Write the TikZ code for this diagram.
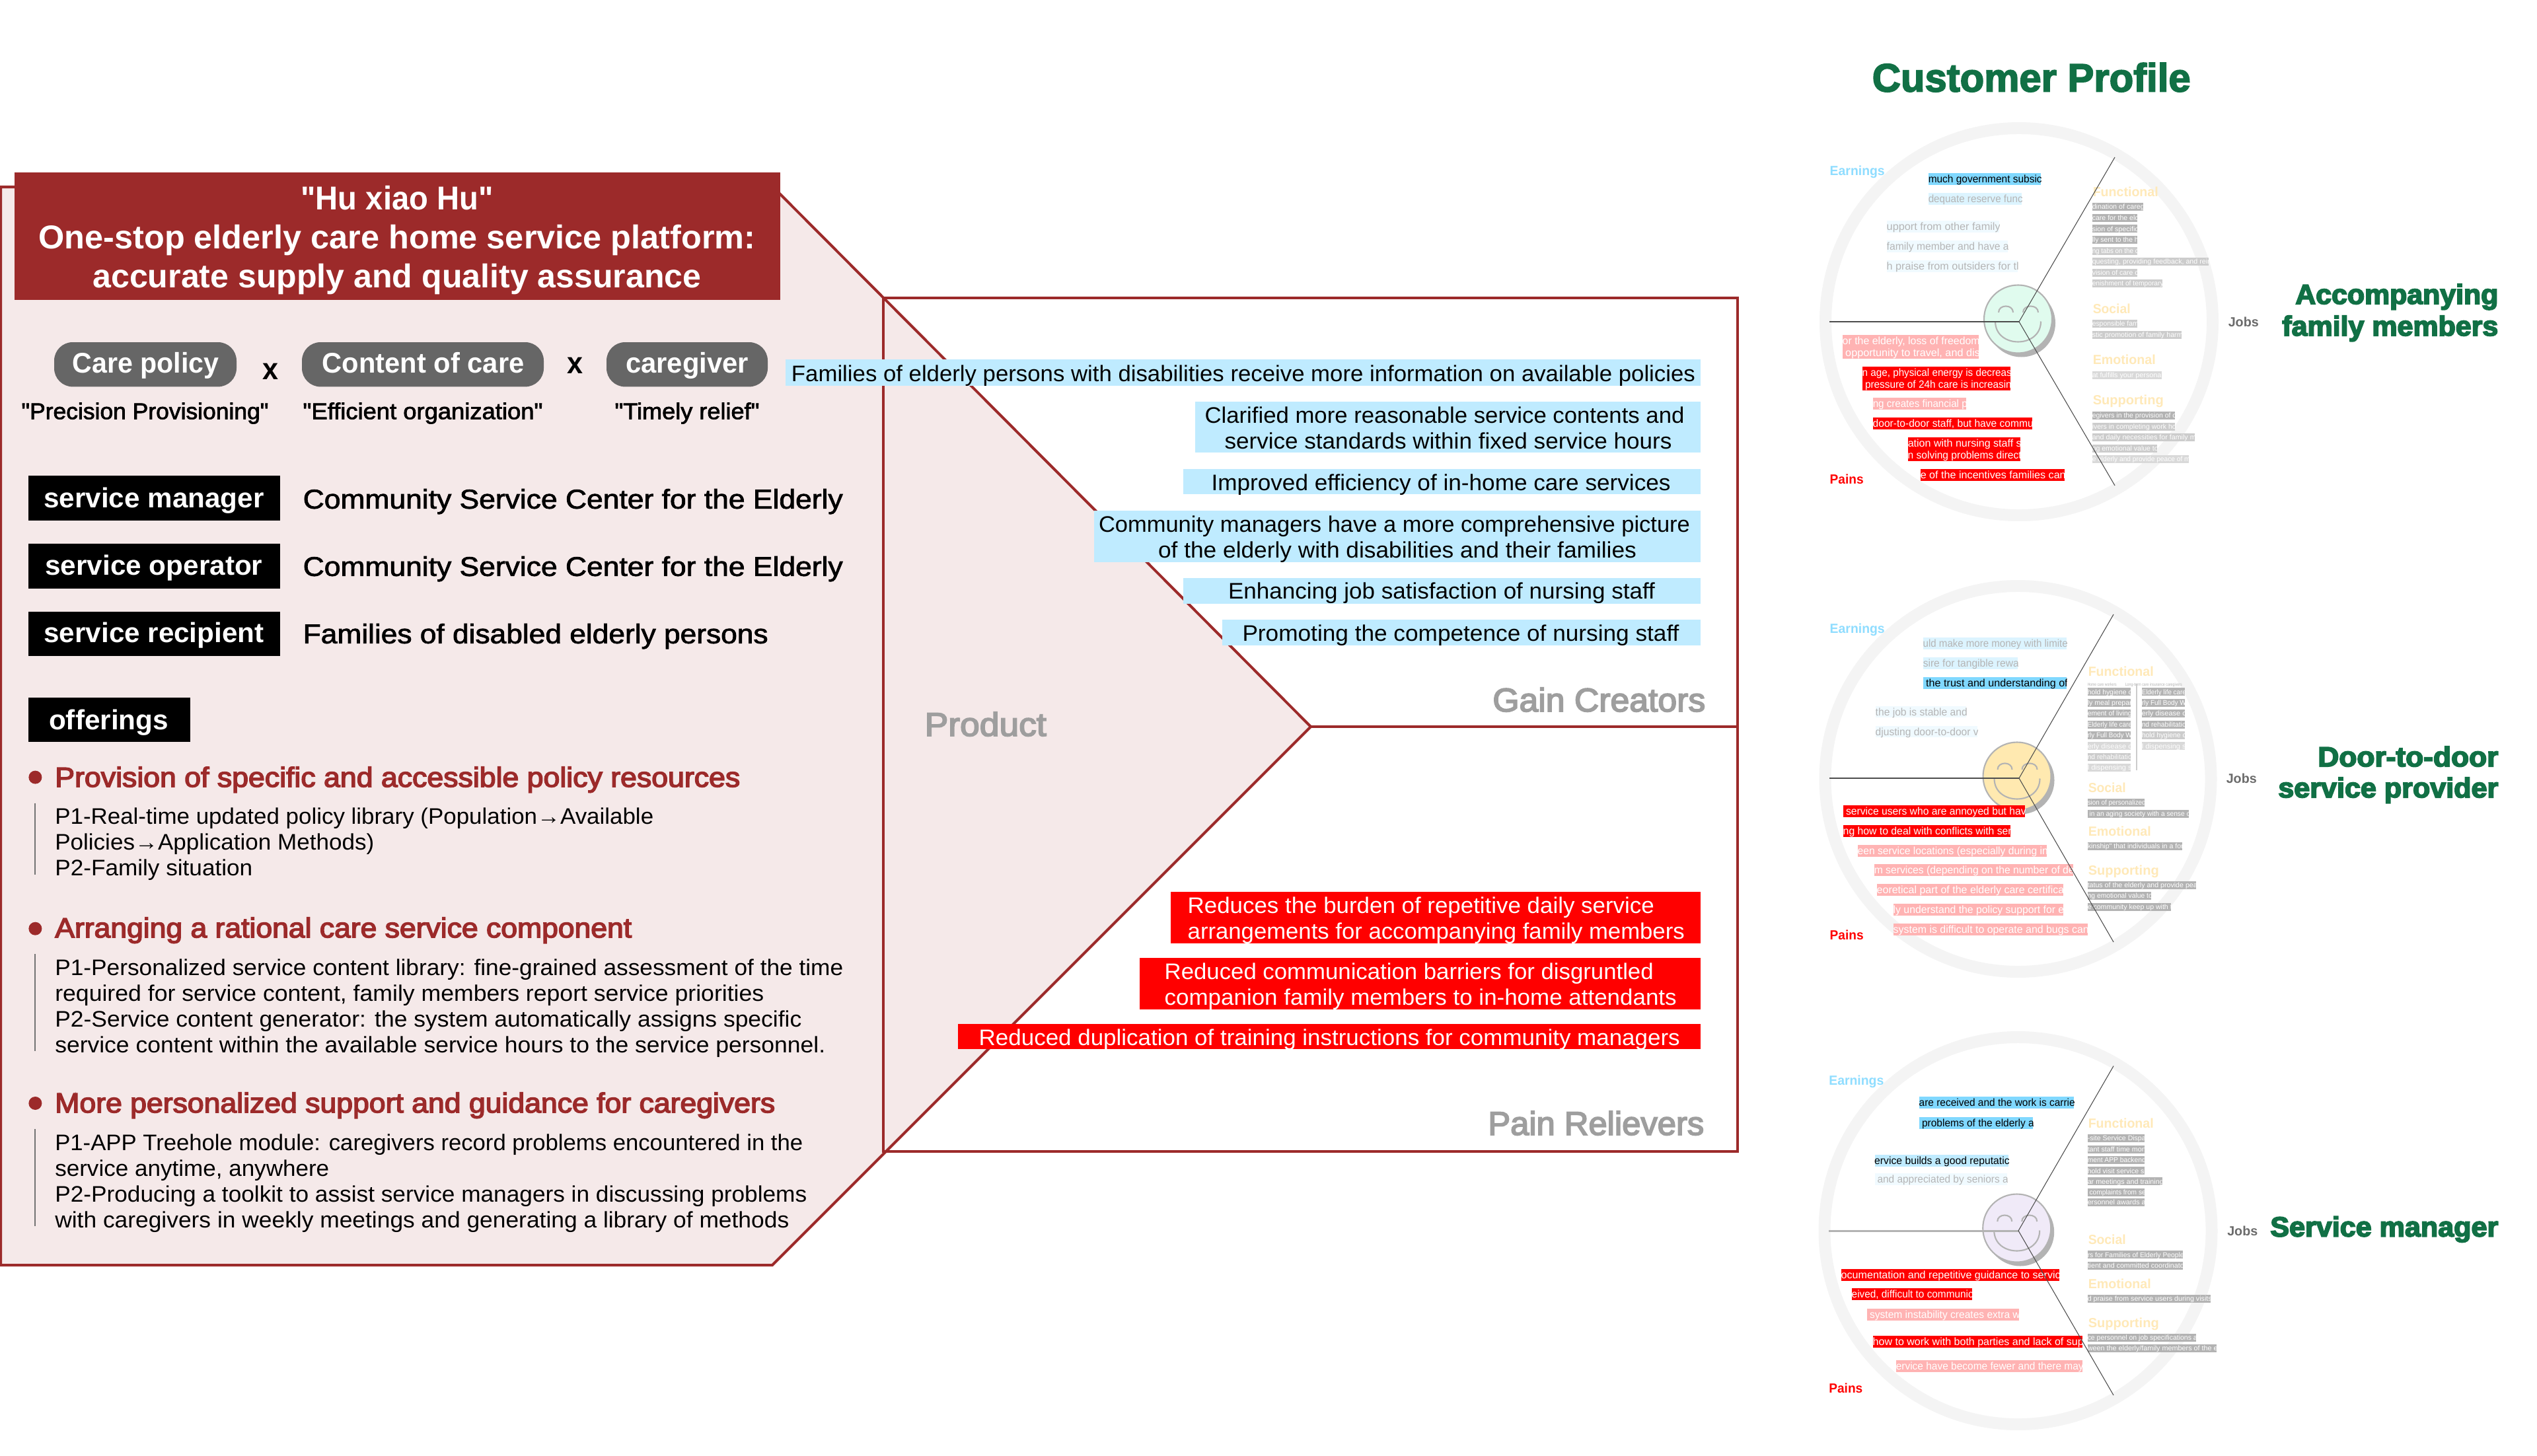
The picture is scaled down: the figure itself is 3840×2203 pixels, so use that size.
\documentclass[tikz,border=0pt]{standalone}
\usepackage{fontspec}
\usepackage{graphicx}
\setmainfont{Liberation Sans}
\newfontfamily\rf{Liberation Sans}
\newcommand\mf{\special{pdf:code 2 Tr 0.22 w}}
\newcommand\hf{\special{pdf:code 2 Tr 0.42 w}}
\newcommand\gf{\special{pdf:code 2 Tr 0.5 w}}
\newcommand\xb{\special{pdf:code 2 Tr 0.5 w}}
\newcommand\stoptr{\special{pdf:code 0 Tr 1 w}}
\definecolor{dkred}{HTML}{9C2A2A}
\definecolor{prodfill}{HTML}{F5E9E9}
\definecolor{pillgray}{HTML}{666666}
\definecolor{valblue}{HTML}{BFEBFF}
\definecolor{skyA}{HTML}{80D8FF}
\definecolor{skyB}{HTML}{DCF4FF}
\definecolor{skyC}{HTML}{F0FAFF}
\definecolor{pinkbox}{HTML}{FFB3B3}
\definecolor{ringgray}{HTML}{F4F4F4}
\definecolor{earnc}{HTML}{8FDDFF}
\definecolor{jobc}{HTML}{FFE9B8}
\definecolor{greent}{HTML}{117045}
\definecolor{capgray}{HTML}{9E9E9E}
\definecolor{jobgray}{HTML}{6B6B6B}
\definecolor{rowA}{HTML}{B3B3B3}
\definecolor{rowB}{HTML}{CCCCCC}
\definecolor{rowC}{HTML}{D9D9D9}
\definecolor{fadetext}{HTML}{B5B5B5}
\definecolor{facegreen}{HTML}{E0FBEE}
\definecolor{faceyellow}{HTML}{FFE9B0}
\definecolor{facepurple}{HTML}{F0EAF8}
\newlength\pxu \pxu=0.2845pt
\newlength\pxl \pxl=0.01cm
\newcounter{nid}
% anchor, x, y centre, width, size, font, colour, text
\newcommand\tx[8]{\stepcounter{nid}\node[anchor=#1,inner sep=0pt,text=#7] (t\thenid) at ({#2},{#3+0.36*#5}) {\resizebox{#4\pxl}{\height}{\fontsize{#5\pxu}{#5\pxu}\selectfont\rf#6\relax#8\stoptr}};}
% size, x1, y1, x2, y2, fill, text colour, text
\newcommand\cbs[8]{\fill[#6] ({#2},{#3}) rectangle ({#4},{#5});
 \begin{scope}\clip ({#2},{#3}) rectangle ({#4},{#5});
 \pgfmathsetmacro\wtmp{#4-#2+2}
 \stepcounter{nid}\node[anchor=base west,inner sep=0pt,text=#7] (t\thenid) at ({#2-1},{0.5*(#3+#5)+0.36*#1}) {\resizebox{\wtmp\pxl}{\height}{\fontsize{#1\pxu}{#1\pxu}\selectfont\rf#8}};
 \end{scope}}
\newcommand\cb[7]{\cbs{16}{#1}{#2}{#3}{#4}{#5}{#6}{#7}}
% two-line box: x1,y1,x2,y2,fill,colour,line1,line2
\newcommand\cbb[8]{\fill[#5] ({#1},{#2}) rectangle ({#3},{#4});
 \begin{scope}\clip ({#1},{#2}) rectangle ({#3},{#4});
 \pgfmathsetmacro\wtmp{#3-#1+2}
 \stepcounter{nid}\node[anchor=base west,inner sep=0pt,text=#6] (t\thenid) at ({#1-1},{0.75*#2+0.25*#4+5.8}) {\resizebox{\wtmp\pxl}{\height}{\fontsize{16\pxu}{16\pxu}\selectfont\rf#7}};
 \stepcounter{nid}\node[anchor=base west,inner sep=0pt,text=#6] (t\thenid) at ({#1-1},{0.25*#2+0.75*#4+5.8}) {\resizebox{\wtmp\pxl}{\height}{\fontsize{16\pxu}{16\pxu}\selectfont\rf#8}};
 \end{scope}}
% job row: x1, y centre, x2, fill, text
\newcommand\jr[5]{\cbs{10.5}{#1}{#2-6}{#3}{#2+6}{#4}{white}{#5}}
% wheel label: x, y, colour, width, text
\newcommand\wl[5]{\tx{base west}{#1}{#2}{#4}{20}{\bfseries}{#3}{#5}}
% smiley: cx, cy, fill
\newcommand\smiley[3]{\begin{scope}[shift={(#1,#2)}]
 \fill[rowA] (5,6) circle[radius=51.5];
 \filldraw[fill=#3,draw=rowA,line width=0.6pt] (0,0) circle[radius=51.5];
 \draw[rowA,line width=0.6pt] (-29.5,-10) .. controls (-29.5,-22.7) and (-7.5,-22.7) .. (-7.5,-10);
 \draw[rowA,line width=0.6pt] (7.5,-10) .. controls (7.5,-22.7) and (30.5,-22.7) .. (30.5,-10);
 \draw[rowA,line width=0.6pt] (-34.5,3.5) .. controls (-34.5,44.8) and (34.5,44.8) .. (34.5,3.5);
 \end{scope}}
\tikzset{
 ring/.style={draw=ringgray,line width=5.1pt},
 spoke/.style={draw=black!70,line width=0.3pt},
 redline/.style={draw=dkred,line width=1.14pt},
 blackbox/.style={fill=black},
 pillbox/.style={fill=pillgray,rounded corners=0.28cm},
 bar/.style={draw=black!55,line width=0.85pt},
 dotm/.style={fill=dkred}
}
\begin{document}
\begin{tikzpicture}[x=0.01cm,y=-0.01cm]
\useasboundingbox (0,0) rectangle (3840,2203);
\fill[white] (0,0) rectangle (3840,2203);
% product shape
\coordinate (tip) at (1984,1100);
\coordinate (pTL) at (1,283);
\coordinate (pTR) at (1170,283);
\coordinate (pBR) at (1169,1915);
\coordinate (pBL) at (1,1915);
\filldraw[fill=prodfill,redline] (pTL) -- (pTR) -- (tip) -- (pBR) -- (pBL) -- cycle;
% gain / pain box
\coordinate (gTL) at (1336.5,451);
\coordinate (gBR) at (2630,1743);
\coordinate (gMR) at (2630,1100);
\draw[redline] (gTL) rectangle (gBR);
\draw[redline] (tip) -- (gMR);
% title
\fill[dkred] (22,261) rectangle (1181,454);
\tx{base}{601}{299}{291}{50}{\bfseries}{white}{"Hu xiao Hu"}
\tx{base}{601}{358}{1085}{50}{\bfseries}{white}{One-stop elderly care home service platform:}
\tx{base}{601}{417.5}{921}{50}{\bfseries}{white}{accurate supply and quality assurance}
% pills
\fill[pillbox] (82,518) rectangle (358,585.4);
\fill[pillbox] (457,518) rectangle (823,585.4);
\fill[pillbox] (918,518) rectangle (1162,585.4);
\tx{base}{220.4}{549}{222}{43}{\bfseries}{white}{Care policy}
\tx{base}{640.6}{549}{306}{43}{\bfseries}{white}{Content of care}
\tx{base}{1040}{549}{186}{43}{\bfseries}{white}{caregiver}
\tx{base}{409}{558}{24}{46}{\bfseries}{black}{x}
\tx{base}{870}{549}{24}{46}{\bfseries}{black}{x}
\tx{base}{219.5}{622}{374}{34.5}{\mf}{black}{"Precision Provisioning"}
\tx{base}{640}{622}{363}{34.5}{\mf}{black}{"Efficient organization"}
\tx{base}{1040}{622}{219}{34.5}{\mf}{black}{"Timely relief"}
% actors
\fill[blackbox] (43,720) rectangle (423.6,787.5);
\fill[blackbox] (43,822.6) rectangle (423.6,890.5);
\fill[blackbox] (43,926) rectangle (423.6,993);
\tx{base}{233}{753}{333}{42}{\bfseries}{white}{service manager}
\tx{base}{233}{855}{329}{42}{\bfseries}{white}{service operator}
\tx{base}{233}{957}{333}{42}{\bfseries}{white}{service recipient}
\tx{base west}{458}{755}{817}{41}{\mf}{black}{Community Service Center for the Elderly}
\tx{base west}{458}{857}{817}{41}{\mf}{black}{Community Service Center for the Elderly}
\tx{base west}{458}{959}{704}{41}{\mf}{black}{Families of disabled elderly persons}
% offerings
\fill[blackbox] (43,1056) rectangle (287.6,1123);
\tx{base}{164.6}{1089}{181}{42}{\bfseries}{white}{offerings}
\fill[dotm] (53.4,1176.6) circle[radius=10];
\fill[dotm] (53.4,1405.7) circle[radius=10];
\fill[dotm] (53.4,1670) circle[radius=10];
\tx{base west}{82.6}{1176}{1037}{42}{\hf}{dkred}{Provision of specific and accessible policy resources}
\tx{base west}{82.6}{1404}{873}{42}{\hf}{dkred}{Arranging a rational care service component}
\tx{base west}{82.6}{1669}{1090}{42}{\hf}{dkred}{More personalized support and guidance for caregivers}
\coordinate (b1a) at (53,1215.7); \coordinate (b1b) at (53,1323.6);
\coordinate (b2a) at (53,1444); \coordinate (b2b) at (53,1591);
\coordinate (b3a) at (53,1709); \coordinate (b3b) at (53,1856);
\draw[bar] (b1a) -- (b1b); \draw[bar] (b2a) -- (b2b); \draw[bar] (b3a) -- (b3b);
\tx{base west}{82.6}{1235}{906}{34}{}{black}{P1-Real-time updated policy library (Population→Available}
\tx{base west}{82.6}{1274}{483}{34}{}{black}{Policies→Application Methods)}
\tx{base west}{82.6}{1313}{299}{34}{}{black}{P2-Family situation}
\tx{base west}{82.6}{1464}{1193}{34}{}{black}{P1-Personalized service content library: fine-grained assessment of the time}
\tx{base west}{82.6}{1503}{1073}{34}{}{black}{required for service content, family members report service priorities}
\tx{base west}{82.6}{1542}{1130}{34}{}{black}{P2-Service content generator: the system automatically assigns specific}
\tx{base west}{82.6}{1581}{1166}{34}{}{black}{service content within the available service hours to the service personnel.}
\tx{base west}{82.6}{1729}{1132}{34}{}{black}{P1-APP Treehole module: caregivers record problems encountered in the}
\tx{base west}{82.6}{1768}{415}{34}{}{black}{service anytime, anywhere}
\tx{base west}{82.6}{1807}{1138}{34}{}{black}{P2-Producing a toolkit to assist service managers in discussing problems}
\tx{base west}{82.6}{1846}{1111}{34}{}{black}{with caregivers in weekly meetings and generating a library of methods}
% value boxes
\fill[valblue] (1189,544) rectangle (2573.5,583.5);
\fill[valblue] (1809,608) rectangle (2573.5,685);
\fill[valblue] (1791,710) rectangle (2573.5,748);
\fill[valblue] (1656,773) rectangle (2573.5,851);
\fill[valblue] (1791,875) rectangle (2573.5,913.6);
\fill[valblue] (1850,938) rectangle (2573.5,977);
\tx{base}{1882}{565}{1368}{34}{}{black}{Families of elderly persons with disabilities receive more information on available policies}
\tx{base}{2186.5}{628}{726}{34}{}{black}{Clarified more reasonable service contents and}
\tx{base}{2192}{667}{677}{34}{}{black}{service standards within fixed service hours}
\tx{base}{2181}{730}{695}{34}{}{black}{Improved efficiency of in-home care services}
\tx{base}{2110.5}{793}{895}{34}{}{black}{Community managers have a more comprehensive picture}
\tx{base}{2115}{832}{724}{34}{}{black}{of the elderly with disabilities and their families}
\tx{base}{2182}{894.5}{646}{34}{}{black}{Enhancing job satisfaction of nursing staff}
\tx{base}{2211}{958}{661}{34}{}{black}{Promoting the competence of nursing staff}
\tx{base east}{2582}{1059}{322}{50}{\gf}{capgray}{Gain Creators}
\tx{base west}{1399}{1096}{184}{50}{\gf}{capgray}{Product}
% relievers
\fill[red] (1772,1350) rectangle (2573.5,1428);
\fill[red] (1725,1450) rectangle (2573.5,1528);
\fill[red] (1450,1550) rectangle (2573.5,1588);
\tx{base west}{1797}{1370}{706}{34}{}{white}{Reduces the burden of repetitive daily service}
\tx{base west}{1797}{1409}{752}{34}{}{white}{arrangements for accompanying family members}
\tx{base west}{1762}{1470}{740}{34}{}{white}{Reduced communication barriers for disgruntled}
\tx{base west}{1762}{1509}{775}{34}{}{white}{companion family members to in-home attendants}
\tx{base west}{1481}{1570}{1061}{34}{}{white}{Reduced duplication of training instructions for community managers}
\tx{base east}{2580}{1700}{327}{50}{\gf}{capgray}{Pain Relievers}
% customer profile
\tx{base west}{2833}{117}{482}{60}{\xb\bfseries}{greent}{Customer Profile}
% ---------- wheel 1
\draw[ring] (3056,487) circle[radius=293];
\smiley{3054.5}{483}{facegreen}
\wl{2769}{258}{earnc}{83}{Earnings}
\wl{2769}{725}{red}{51}{Pains}
\cb{2919}{262}{3089}{280}{skyA}{black}{much government subsic}
\cb{2919}{292}{3060}{310}{skyB}{fadetext}{dequate reserve func}
\cb{2856}{334}{3026}{352}{skyC}{fadetext}{upport from other family}
\cb{2856}{364}{3039}{382}{skyC}{fadetext}{family member and have a}
\cb{2856}{394}{3054}{412}{skyC}{fadetext}{h praise from outsiders for tl}
\cbb{2789}{507}{2995}{543}{pinkbox}{white}{or the elderly, loss of freedom}{ opportunity to travel, and dis}
\cbb{2819}{555}{3043}{591}{red}{white}{n age, physical energy is decreas}{ pressure of 24h care is increasin}
\cb{2835}{602}{2976}{620}{pinkbox}{white}{ng creates financial p}
\cb{2835}{632}{3076}{650}{red}{white}{door-to-door staff, but have commu}
\cbb{2888}{662}{3058}{698}{red}{white}{ation with nursing staff s}{n solving problems direct}
\cb{2907}{710}{3125}{728}{red}{white}{e of the incentives families can}
\wl{3167}{290}{jobc}{99}{Functional}
\jr{3167}{313}{3244}{rowA}{dination of careg}
\jr{3167}{330}{3235}{rowA}{care for the elc}
\jr{3167}{346.4}{3235}{rowA}{sion of specific}
\jr{3167}{363}{3235}{rowA}{lly sent to the h}
\jr{3167}{379.5}{3235}{rowB}{ng tabs on the c}
\jr{3167}{396}{3343}{rowB}{questing, providing feedback, and reir}
\jr{3167}{412.5}{3235}{rowB}{vision of care c}
\jr{3167}{429}{3273}{rowB}{enishment of temporary}
\wl{3167}{467}{jobc}{57}{Social}
\jr{3167}{490}{3235}{rowB}{esponsible fam}
\jr{3167}{506.5}{3302}{rowB}{stic promotion of family harm}
\wl{3167}{544}{jobc}{95}{Emotional}
\jr{3167}{568}{3272}{rowC}{at fulfills your personal}
\wl{3167}{605}{jobc}{107}{Supporting}
\jr{3167}{629}{3292}{rowA}{egivers in the provision of c}
\jr{3167}{645.6}{3292}{rowB}{ivers in completing work ho}
\jr{3167}{662}{3322}{rowB}{and daily necessities for family m}
\jr{3167}{679}{3265}{rowB}{ng emotional value to}
\jr{3167}{695}{3313}{rowC}{e elderly and provide peace of m}
\wl{3372}{487}{jobgray}{46}{Jobs}
\coordinate (wac) at (3056,487); \coordinate (wal) at (2769,487);
\coordinate (wau) at (3201,238); \coordinate (wad) at (3201,735);
\draw[spoke] (wac) -- (wal); \draw[spoke] (wac) -- (wau); \draw[spoke] (wac) -- (wad);
\tx{base east}{3782}{445}{307}{42}{\xb\bfseries}{greent}{Accompanying}
\tx{base east}{3782}{493}{327}{42}{\xb\bfseries}{greent}{family members}
% ---------- wheel 2
\draw[ring] (3054.5,1179) circle[radius=292];
\smiley{3053}{1175}{faceyellow}
\wl{2769}{951}{earnc}{83}{Earnings}
\wl{2769}{1415.6}{red}{51}{Pains}
\cb{2911}{965}{3128}{983}{skyB}{fadetext}{uld make more money with limite}
\cb{2911}{995}{3054}{1013}{skyB}{fadetext}{sire for tangible rewa}
\cb{2911}{1024.5}{3128}{1043}{skyA}{black}{ the trust and understanding of}
\cb{2839}{1069}{2976}{1086}{skyC}{fadetext}{the job is stable and}
\cb{2839}{1099}{2993}{1116}{skyC}{fadetext}{djusting door-to-door v}
\cb{2790}{1219}{3065}{1237}{red}{white}{ service users who are annoyed but hav}
\cb{2790}{1249}{3043}{1266.6}{red}{white}{ng how to deal with conflicts with ser}
\cb{2812}{1279}{3098}{1296.5}{pinkbox}{white}{een service locations (especially during in}
\cb{2837}{1308}{3138}{1326}{pinkbox}{white}{m services (depending on the number of de}
\cb{2841}{1338}{3122.5}{1356}{pinkbox}{white}{eoretical part of the elderly care certifica}
\cb{2866}{1368}{3122.5}{1386}{pinkbox}{white}{ly understand the policy support for e}
\cb{2866}{1398}{3160}{1415.6}{pinkbox}{white}{system is difficult to operate and bugs can}
\wl{3160}{1016}{jobc}{99}{Functional}
\tx{base west}{3159}{1036}{44}{6.5}{}{rowA}{Home care workers}
\tx{base west}{3216}{1036}{86}{6.5}{}{rowA}{Long-term care insurance caregivers}
\coordinate (dva) at (3234,1035); \coordinate (dvb) at (3234,1166);
\draw[rowB,line width=0.4pt] (dva) -- (dvb);
\jr{3160}{1047.3}{3225}{rowA}{hold hygiene c}
\jr{3160}{1063.7}{3225}{rowA}{ly meal prepar}
\jr{3160}{1080}{3225}{rowA}{ement of living}
\jr{3160}{1096.5}{3225}{rowA}{Elderly life care}
\jr{3160}{1113}{3225}{rowA}{rly Full Body W}
\jr{3160}{1129.4}{3225}{rowC}{erly disease c}
\jr{3160}{1145.8}{3225}{rowB}{nd rehabilitatio}
\jr{3160}{1162}{3225}{rowC}{l dispensing s}
\jr{3242}{1047.3}{3307}{rowA}{Elderly life care}
\jr{3242}{1063.7}{3307}{rowA}{rly Full Body W}
\jr{3242}{1080}{3307}{rowA}{erly disease c}
\jr{3242}{1096.5}{3307}{rowA}{nd rehabilitatio}
\jr{3242}{1113}{3307}{rowB}{hold hygiene c}
\jr{3242}{1129.4}{3307}{rowC}{l dispensing s}
\wl{3160}{1192.5}{jobc}{57}{Social}
\jr{3160}{1215}{3246}{rowA}{sion of personalized}
\jr{3160}{1231.6}{3313}{rowA}{ in an aging society with a sense c}
\wl{3160}{1258}{jobc}{95}{Emotional}
\jr{3160}{1280.5}{3303}{rowA}{kinship" that individuals in a for}
\wl{3160}{1317.5}{jobc}{107}{Supporting}
\jr{3160}{1340}{3324}{rowA}{tatus of the elderly and provide pea}
\jr{3160}{1356}{3256}{rowA}{ng emotional value to}
\jr{3160}{1372.6}{3286}{rowA}{e community keep up with t}
\wl{3369}{1178.6}{jobgray}{46}{Jobs}
\coordinate (wbc) at (3056,1178); \coordinate (wbl) at (2769,1178);
\coordinate (wbu) at (3199,930); \coordinate (wbd) at (3199,1426);
\draw[black!70,line width=0.6pt] (wbc) -- (wbl); \draw[spoke] (wbc) -- (wbu); \draw[spoke] (wbc) -- (wbd);
\tx{base east}{3782}{1145}{273}{42}{\xb\bfseries}{greent}{Door-to-door}
\tx{base east}{3782}{1192}{333}{42}{\xb\bfseries}{greent}{service provider}
% ---------- wheel 3
\draw[ring] (3054.5,1863) circle[radius=293];
\smiley{3052.7}{1859}{facepurple}
\wl{2767.6}{1635}{earnc}{83}{Earnings}
\wl{2767.6}{2101}{red}{51}{Pains}
\cb{2905}{1660}{3139}{1678}{skyA}{black}{are received and the work is carrie}
\cb{2905}{1690.7}{3077}{1709}{skyA}{black}{ problems of the elderly a}
\cb{2837.5}{1748}{3040}{1766.4}{valblue}{black}{ervice builds a good reputatic}
\cb{2837.5}{1776}{3038}{1794}{skyC}{fadetext}{ and appreciated by seniors a}
\cb{2787}{1921}{3117}{1939}{red}{white}{ocumentation and repetitive guidance to servic}
\cb{2803}{1949.5}{2985}{1967.6}{red}{white}{eived, difficult to communic}
\cb{2826}{1980.6}{3056}{1999}{pinkbox}{white}{ system instability creates extra w}
\cb{2835}{2022}{3152}{2040}{red}{white}{how to work with both parties and lack of sup}
\cb{2870}{2059}{3152}{2077}{pinkbox}{white}{ervice have become fewer and there may}
\wl{3160}{1700}{jobc}{99}{Functional}
\jr{3160}{1722.7}{3246}{rowA}{-site Service Dispa}
\jr{3160}{1739.5}{3246}{rowA}{tant staff time mon}
\jr{3160}{1756}{3246}{rowA}{ment APP backend}
\jr{3160}{1772.3}{3246}{rowA}{hold visit service si}
\jr{3160}{1788.3}{3273}{rowA}{ar meetings and training}
\jr{3160}{1804.7}{3246}{rowA}{ complaints from se}
\jr{3160}{1819.5}{3246}{rowA}{ersonnel awards a}
\wl{3160}{1876.7}{jobc}{57}{Social}
\jr{3160}{1899.4}{3304}{rowA}{rs for Families of Elderly People}
\jr{3160}{1916}{3304}{rowA}{tient and committed coordinato}
\wl{3160}{1943}{jobc}{95}{Emotional}
\jr{3160}{1965.5}{3346}{rowA}{d praise from service users during visits}
\wl{3160}{2002}{jobc}{107}{Supporting}
\jr{3160}{2025}{3324}{rowA}{ce personnel on job specifications a}
\jr{3160}{2041}{3355}{rowA}{ween the elderly/family members of the e}
\wl{3370.5}{1863}{jobgray}{46}{Jobs}
\coordinate (wcc) at (3055,1863); \coordinate (wcl) at (2767.6,1863);
\coordinate (wcu) at (3199,1613.6); \coordinate (wcd) at (3199,2112);
\draw[rowA,line width=0.85pt] (wcc) -- (wcl); \draw[spoke] (wcc) -- (wcu); \draw[spoke] (wcc) -- (wcd);
\tx{base east}{3782}{1856.5}{345}{42}{\xb\bfseries}{greent}{Service manager}
\end{tikzpicture}
\end{document}
